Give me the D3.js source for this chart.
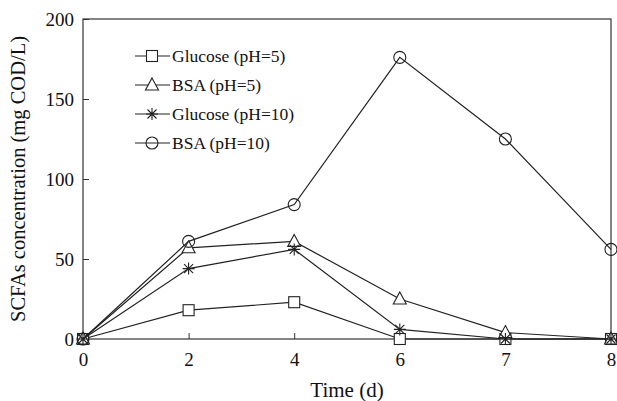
<!DOCTYPE html>
<head>
  <meta charset="utf-8">
  <script src="https://cdnjs.cloudflare.com/ajax/libs/d3/7.8.5/d3.min.js"></script>
  <style>
    body { margin:0; background:#fff; }
    text { font-family: "Liberation Serif", "Times New Roman", serif; fill:#111; }
  </style>
</head>
<body>
<div id="vis"></div>
<script>
  var days = ["0", "2", "4", "6", "7", "8"];
  var glucose5 = [0, 18, 23, 0, 0, 0];
  var bsa5 = [0, 57, 61, 25, 4, 0];
  var glucose10 = [0, 44, 56, 6, 0, 0];
  var bsa10 = [0, 61, 84, 176, 125, 56];
  var yTicks = [0, 50, 100, 150, 200];

  var series = [
    {name: "Glucose (pH=5)", values: glucose5, shape: "square"},
    {name: "BSA (pH=5)", values: bsa5, shape: "triangle"},
    {name: "Glucose (pH=10)", values: glucose10, shape: "star"},
    {name: "BSA (pH=10)", values: bsa10, shape: "circle"}
  ];

  var width = 617, height = 401;
  var m = {left: 83, right: 6, top: 19, bottom: 62};

  var svg = d3.select("#vis").append("svg")
    .attr("width", width)
    .attr("height", height);

  var x = d3.scalePoint().domain(days).range([m.left, width - m.right]);
  var y = d3.scaleLinear().domain([0, 200]).range([height - m.bottom, m.top]);

  var g = svg.append("g");

  // frame
  g.append("rect")
    .attr("x", m.left).attr("y", m.top)
    .attr("width", width - m.right - m.left)
    .attr("height", height - m.bottom - m.top)
    .attr("fill", "none").attr("stroke", "#333").attr("stroke-width", 1.2);

  var xAxis = g.append("g")
    .attr("transform", "translate(0," + (height - m.bottom) + ")")
    .call(d3.axisBottom(x).tickSize(-6).tickPadding(14));
  xAxis.select(".domain").remove();

  var yAxis = g.append("g")
    .attr("transform", "translate(" + m.left + ",0)")
    .call(d3.axisLeft(y).tickValues(yTicks).tickSize(-6).tickPadding(9));
  yAxis.select(".domain").remove();

  svg.selectAll(".tick line").attr("stroke", "#333");
  svg.selectAll(".tick text")
    .style("font-family", "Liberation Serif, serif")
    .style("font-size", "19px").attr("fill", "#111");

  function marker(sel, shape) {
    if (shape == "square") {
      sel.append("rect").attr("x", -5.5).attr("y", -5.5).attr("width", 11).attr("height", 11)
        .attr("fill", "#fff").attr("stroke", "#222").attr("stroke-width", 1.1);
    } else if (shape == "triangle") {
      sel.append("path").attr("d", "M0,-7L6.5,5L-6.5,5Z")
        .attr("fill", "#fff").attr("stroke", "#222").attr("stroke-width", 1.1);
    } else if (shape == "circle") {
      sel.append("circle").attr("r", 6)
        .attr("fill", "none").attr("stroke", "#222").attr("stroke-width", 1.1);
    } else {
      sel.append("path").attr("d", "M-6,0H6M0,-6V6M-4.5,-4.5L4.5,4.5M-4.5,4.5L4.5,-4.5")
        .attr("fill", "none").attr("stroke", "#222").attr("stroke-width", 1.1);
    }
  }

  var line = d3.line()
    .x(function(d, i) { return x(days[i]); })
    .y(function(d) { return y(d); });

  series.forEach(function(s) {
    g.append("path")
      .attr("d", line(s.values))
      .attr("fill", "none").attr("stroke", "#222").attr("stroke-width", 1.2);
    s.values.forEach(function(v, i) {
      var p = g.append("g").attr("transform", "translate(" + x(days[i]) + "," + y(v) + ")");
      marker(p, s.shape);
    });
  });

  // legend
  var leg = g.append("g").attr("transform", "translate(135,56)");
  series.forEach(function(s, i) {
    var row = leg.append("g").attr("transform", "translate(0," + (i * 29) + ")");
    row.append("line").attr("x1", 0).attr("x2", 35).attr("stroke", "#222").attr("stroke-width", 1.2);
    var mk = row.append("g").attr("transform", "translate(17,0)");
    marker(mk, s.shape);
    row.append("text").attr("x", 37).attr("y", 6)
      .style("font-size", "17.5px").text(s.name);
  });

  svg.append("text")
    .attr("x", (m.left + width - m.right) / 2)
    .attr("y", 397)
    .attr("text-anchor", "middle")
    .style("font-size", "21px")
    .text("Time (d)");

  svg.append("text")
    .attr("transform", "translate(25," + ((m.top + height - m.bottom) / 2) + ") rotate(-90)")
    .attr("text-anchor", "middle")
    .style("font-size", "20.5px")
    .text("SCFAs concentration (mg COD/L)");
</script>
</body>
